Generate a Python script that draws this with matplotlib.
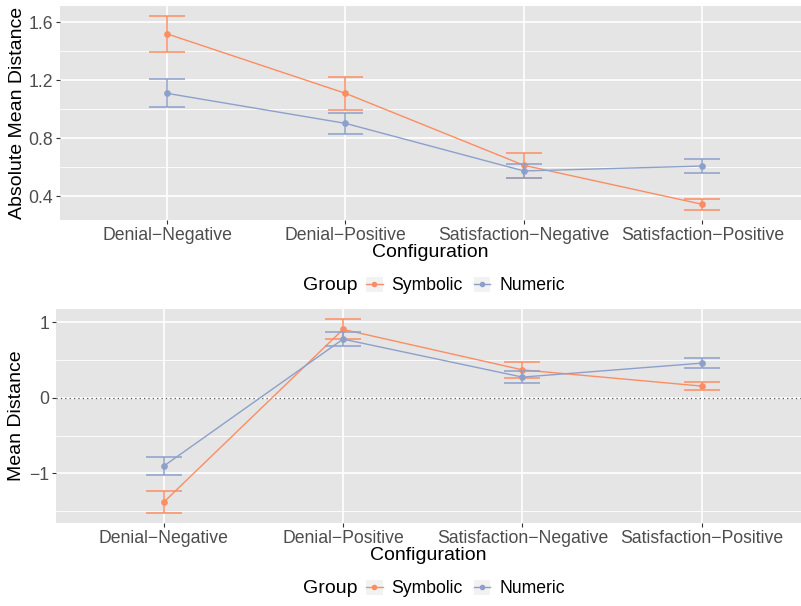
import matplotlib
matplotlib.use('Agg')
import matplotlib.pyplot as plt
from matplotlib.lines import Line2D
from matplotlib.patches import Patch
from matplotlib.legend_handler import HandlerTuple

plt.rcParams['font.family'] = ['Liberation Sans', 'DejaVu Sans']

configs = ["Denial−Negative", "Denial−Positive", "Satisfaction−Negative", "Satisfaction−Positive"]

# absolute mean distance
abs_sym = [1.52, 1.11, 0.614, 0.345]
abs_sym_lo = [1.393, 0.995, 0.526, 0.305]
abs_sym_hi = [1.646, 1.223, 0.699, 0.379]
abs_num = [1.11, 0.903, 0.575, 0.609]
abs_num_lo = [1.014, 0.83, 0.527, 0.561]
abs_num_hi = [1.207, 0.977, 0.623, 0.657]

# signed mean distance
mean_sym = [-1.384, 0.906, 0.37, 0.155]
mean_sym_lo = [-1.53, 0.775, 0.265, 0.106]
mean_sym_hi = [-1.24, 1.044, 0.473, 0.208]
mean_num = [-0.905, 0.777, 0.274, 0.459]
mean_num_lo = [-1.027, 0.68, 0.194, 0.389]
mean_num_hi = [-0.786, 0.865, 0.349, 0.522]

sym_col = '#FC8D62'
num_col = '#8DA0CB'
x = [1, 2, 3, 4]


def style_axes(ax, yticks, yminor, ylim, ylabel):
    ax.set_facecolor('#E5E5E5')
    for s in ax.spines.values():
        s.set_visible(False)
    ax.set_xlim(0.4, 4.553)
    ax.set_ylim(*ylim)
    ax.set_xticks(x)
    ax.set_xticklabels(configs)
    ax.set_yticks(yticks)
    ax.set_yticks(yminor, minor=True)
    ax.tick_params(axis='both', which='major', colors='#333333', labelcolor='#4D4D4D',
                   labelsize=12.7, length=3, width=0.8, pad=2)
    ax.tick_params(axis='y', which='minor', length=0)
    ax.grid(True, which='major', color='white', linewidth=1.2)
    ax.grid(True, which='minor', axis='y', color='white', linewidth=0.6)
    ax.set_axisbelow(True)
    ax.set_xlabel('Configuration', fontsize=14, labelpad=0)
    ax.set_ylabel(ylabel, fontsize=14, labelpad=0)


def draw_group(ax, vals, lo, hi, col):
    ax.vlines(x, lo, hi, color=col, linewidth=1.1)
    ax.hlines(lo, [v - 0.1 for v in x], [v + 0.1 for v in x], color=col, linewidth=1.1)
    ax.hlines(hi, [v - 0.1 for v in x], [v + 0.1 for v in x], color=col, linewidth=1.1)
    ax.plot(x, vals, color=col, linewidth=1.0, marker='o', markersize=3.8)


def add_legend(fig, ypos):
    h_sym = (Patch(facecolor='#F2F2F2', edgecolor='none'),
             Line2D([], [], color=sym_col, marker='o', markersize=3, linewidth=1))
    h_num = (Patch(facecolor='#F2F2F2', edgecolor='none'),
             Line2D([], [], color=num_col, marker='o', markersize=3, linewidth=1))
    fig.text(303 / 801, ypos, 'Group', fontsize=14, ha='left', va='center')
    fig.legend([h_sym, h_num], ['Symbolic', 'Numeric'], ncol=2, frameon=False,
               loc='center left', bbox_to_anchor=(366 / 801, ypos), fontsize=12.7,
               handler_map={tuple: HandlerTuple(ndivide=1)},
               handlelength=0.95, handleheight=1.0, handletextpad=0.5,
               columnspacing=0.6, borderaxespad=0, borderpad=0)


fig = plt.figure(figsize=(8.01, 6.06), dpi=100)

ax1 = fig.add_axes([60 / 801, 1 - 220 / 606, 741 / 801, 214 / 606])
style_axes(ax1, [0.4, 0.8, 1.2, 1.6], [0.6, 1.0, 1.4], (0.237, 1.712), 'Absolute Mean Distance')
ax1.set_yticklabels(['0.4', '0.8', '1.2', '1.6'])
ax1.yaxis.set_label_coords(-34 / 741, 0.5)
draw_group(ax1, abs_sym, abs_sym_lo, abs_sym_hi, sym_col)
draw_group(ax1, abs_num, abs_num_lo, abs_num_hi, num_col)

ax2 = fig.add_axes([56 / 801, 1 - 522.7 / 606, 745 / 801, 213.4 / 606])
style_axes(ax2, [-1, 0, 1], [-1.5, -0.5, 0.5], (-1.654, 1.172), 'Mean Distance')
ax2.yaxis.set_label_coords(-31 / 745, 0.5)
ax2.axhline(0, color='#555555', linewidth=0.9, linestyle=(0, (1, 2.5)))
draw_group(ax2, mean_sym, mean_sym_lo, mean_sym_hi, sym_col)
draw_group(ax2, mean_num, mean_num_lo, mean_num_hi, num_col)

add_legend(fig, 1 - 285.5 / 606)
add_legend(fig, 1 - 588.5 / 606)

fig.savefig('out.png', dpi=100)
